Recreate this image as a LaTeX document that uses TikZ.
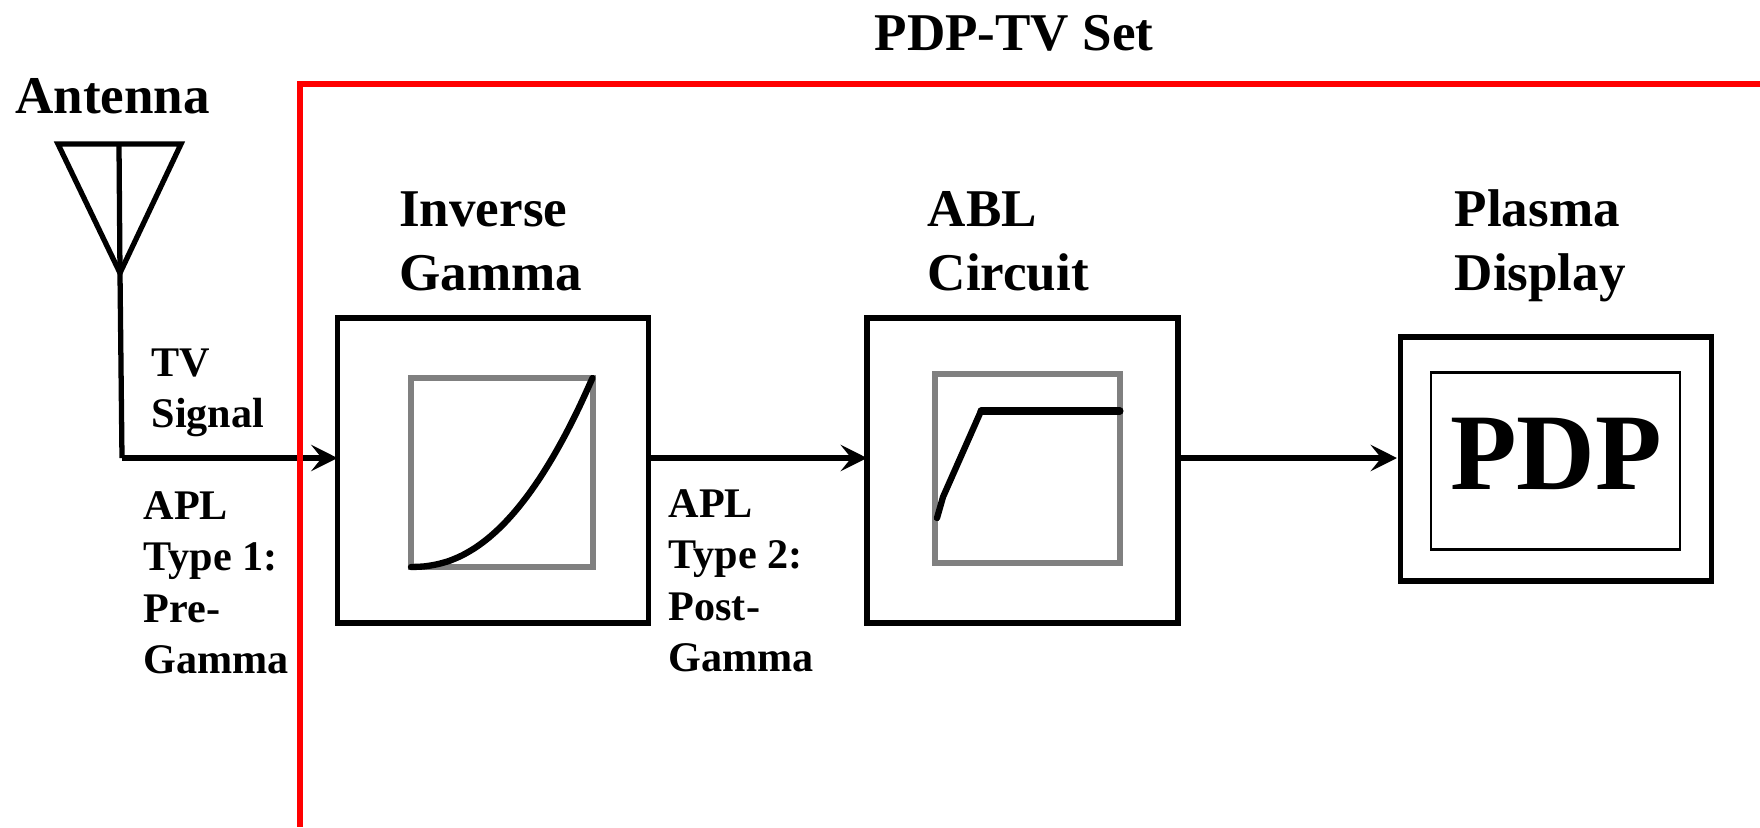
\documentclass[tikz,border=0pt]{standalone}
\usepackage{fontspec}
\setmainfont{Liberation Serif}
\usetikzlibrary{arrows.meta}
\tikzset{
  blockbox/.style={draw,line width=1.5pt,inner sep=0pt,outer sep=0pt},
  plotbox/.style={draw=black!50,line width=1.7pt,inner sep=0pt},
  wire/.style={line width=1.5pt},
  flow/.style={wire,-{Stealth[length=7.5pt,width=7.5pt,inset=3pt]}},
  curve/.style={line width=1.8pt,line cap=round,line join=round},
  heading/.style={font=\fontsize{15.1}{18.2}\selectfont\bfseries,align=left,anchor=north west,inner sep=0pt},
  note/.style={font=\fontsize{12}{14.6}\selectfont\bfseries,align=left,anchor=north west,inner sep=0pt}
}
\begin{document}
\begin{tikzpicture}
\useasboundingbox (0,0) rectangle (17.6,8.27);
% blocks
\node[blockbox,minimum width=3.11cm,minimum height=3.05cm] (gamma) at (4.93,3.565) {};
\node[plotbox,minimum width=1.815cm,minimum height=1.89cm] (gammaplot) at (5.02,3.545) {};
\node[blockbox,minimum width=3.11cm,minimum height=3.05cm] (abl) at (10.225,3.565) {};
\node[plotbox,minimum width=1.85cm,minimum height=1.895cm] (ablplot) at (10.275,3.585) {};
\node[blockbox,minimum width=3.11cm,minimum height=2.44cm] (pdp) at (15.56,3.68) {};
\node[draw,line width=.6pt,inner sep=0pt,minimum width=2.49cm,minimum height=1.77cm] (screen) at (15.555,3.66) {};
\node[font=\fontsize{31}{31}\selectfont\bfseries,inner sep=0pt,anchor=base] (pdptext) at (15.56,3.38) {PDP};
% plots
\draw[curve] plot[smooth,domain=0:1,samples=15] ({4.11+1.815*\x},{2.6+1.89*pow(\x,2.2)});
\draw[curve] (9.37,3.09) -- (9.43,3.3) -- (9.81,4.16);
\draw[line width=2pt,line cap=round] (9.81,4.16) -- (11.2,4.16);
% antenna
\coordinate (left) at (.58,6.83);
\coordinate (right) at (1.81,6.83);
\coordinate (apex) at (1.2,5.54);
\coordinate (corner) at (1.22,3.69);
\draw[wire] (left) -- (right) -- (apex) -- cycle;
\draw[wire] (1.19,6.83) -- (apex) -- (corner);
% signal path
\draw[flow] (corner) -- (corner -| gamma.west);
\draw[flow] (corner -| gamma.east) -- (corner -| abl.west);
\draw[flow,shorten >=1pt] (corner -| abl.east) -- (corner -| pdp.west);
% set frame
\draw[red,line width=1.6pt] (17.6,7.43) -- (3,7.43) -- (3,0);
% labels
\node[heading,anchor=north] (title) at (10.14,8.12) {PDP-TV Set};
\node[heading,anchor=north] (antenna) at (1.125,7.49) {Antenna};
\node[heading] (gammalabel) at (3.985,6.36) {Inverse\\Gamma};
\node[heading] (abllabel) at (9.27,6.36) {ABL\\Circuit};
\node[heading] (pdplabel) at (14.54,6.38) {Plasma\\Display};
\node[note] (tvsignal) at (1.51,4.79) {TV\\Signal};
\node[note] (apla) at (1.43,3.36) {APL\\Type 1:\\Pre-\\Gamma};
\node[note] (aplb) at (6.68,3.38) {APL\\Type 2:\\Post-\\Gamma};
\end{tikzpicture}
\end{document}
